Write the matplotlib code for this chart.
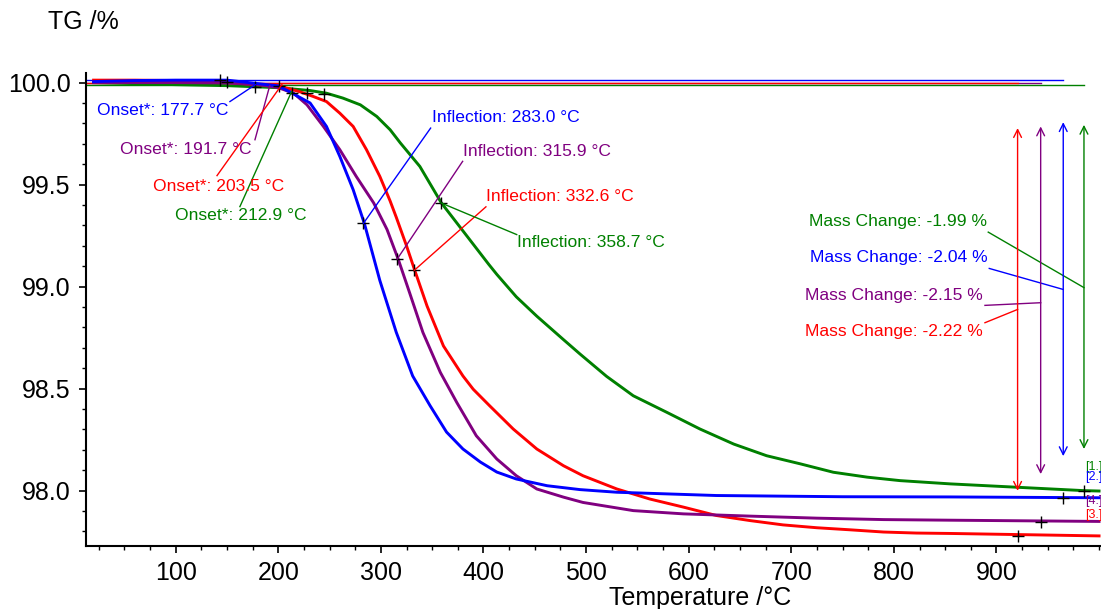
import numpy as np
import matplotlib
matplotlib.use('Agg')
import matplotlib.pyplot as plt
from matplotlib.ticker import MultipleLocator, FixedLocator

plt.rcParams['font.family'] = ['Liberation Sans', 'DejaVu Sans']

# sample curves (temperature in axis units, mass in %)
t_blue = [20, 60, 100, 150, 180, 200, 211, 231, 247, 260, 273, 284, 292, 299, 315, 331, 348,
          364, 380, 397, 413, 432, 462, 494, 530, 627, 750, 855, 1000]
m_blue = [100.005, 100.01, 100.012, 100.012, 99.995, 99.984, 99.955, 99.90, 99.785, 99.638,
          99.475, 99.308, 99.16, 99.03, 98.776, 98.562, 98.416, 98.287, 98.204, 98.140,
          98.091, 98.057, 98.024, 98.005, 97.992, 97.976, 97.970, 97.969, 97.965]

t_purple = [20, 60, 100, 150, 180, 200, 215, 228, 244, 260, 276, 293, 306, 317, 328, 341, 358,
            374, 393, 413, 432, 452, 478, 497, 546, 595, 660, 725, 790, 855, 1000]
m_purple = [100.0, 100.0, 100.0, 99.998, 99.99, 99.975, 99.948, 99.891, 99.785, 99.671, 99.540,
            99.410, 99.280, 99.133, 98.970, 98.775, 98.579, 98.432, 98.269, 98.155, 98.073,
            98.008, 97.968, 97.942, 97.902, 97.886, 97.875, 97.865, 97.858, 97.855, 97.849]

t_red = [20, 60, 100, 150, 180, 200, 221, 234, 247, 260, 273, 286, 299, 309, 315, 325, 333, 345,
         361, 380, 390, 406, 429, 452, 478, 497, 530, 562, 595, 627, 660, 692, 725, 757, 790,
         822, 855, 1000]
m_red = [100.012, 100.012, 100.01, 100.0, 99.99, 99.985, 99.955, 99.932, 99.907, 99.850, 99.785,
         99.671, 99.540, 99.42, 99.34, 99.20, 99.08, 98.905, 98.709, 98.562, 98.497, 98.416,
         98.302, 98.204, 98.122, 98.073, 98.008, 97.959, 97.919, 97.878, 97.853, 97.832, 97.818,
         97.808, 97.797, 97.792, 97.790, 97.778]

t_green = [20, 60, 100, 150, 200, 231, 247, 263, 280, 296, 309, 319, 338, 359, 384, 405, 413,
           432, 452, 478, 494, 520, 546, 579, 611, 644, 676, 709, 741, 774, 806, 855, 985, 1000]
m_green = [100.0, 99.995, 99.99, 99.985, 99.975, 99.961, 99.948, 99.924, 99.891, 99.834, 99.769,
           99.704, 99.589, 99.410, 99.247, 99.11, 99.06, 98.95, 98.855, 98.74, 98.67, 98.56,
           98.465, 98.383, 98.302, 98.228, 98.171, 98.131, 98.090, 98.066, 98.049, 98.033,
           98.000, 97.998]

colors = {'blue': '#0000ff', 'purple': '#800080', 'red': '#ff0000', 'green': '#008000'}

# onset / inflection results
onset_T = {'blue': 177.7, 'purple': 191.7, 'red': 203.5, 'green': 212.9}
infl_T = {'blue': 283.0, 'purple': 315.9, 'red': 332.6, 'green': 358.7}
infl_m = {'blue': 99.31, 'purple': 99.135, 'red': 99.08, 'green': 99.41}
mass_change = {'green': -1.99, 'blue': -2.04, 'purple': -2.15, 'red': -2.22}

# tangent crosses near the onsets
onset_cross_T = [143.2, 149.7, 177.3, 200.7, 213.1, 228.3, 244.5]
onset_cross_m = [100.013, 100.005, 99.980, 99.984, 99.951, 99.951, 99.945]

# mass change step positions
step_T = {'red': 920.6, 'purple': 943.1, 'blue': 965.1, 'green': 985.3}
step_end = {'red': 97.777, 'purple': 97.848, 'blue': 97.963, 'green': 97.997}
start_level = {'purple': 100.0, 'red': 100.0, 'blue': 100.013, 'green': 99.989}
arrow_top = {'red': 99.777, 'purple': 99.785, 'blue': 99.806, 'green': 99.793}
arrow_bot = {'red': 97.999, 'purple': 98.081, 'blue': 98.169, 'green': 98.204}

fig = plt.figure(figsize=(11.01, 6.09), dpi=100)
ax = fig.add_axes([86/1101, 1-545.7/609, 1-86/1101, (545.7-73)/609])

x0 = 12.6
# starting level lines
for k in ['purple', 'red', 'blue', 'green']:
    ax.plot([x0, step_T[k]], [start_level[k]]*2, color=colors[k], lw=1)

ax.plot(t_green, m_green, color=colors['green'], lw=2.1)
ax.plot(t_red, m_red, color=colors['red'], lw=2.1)
ax.plot(t_purple, m_purple, color=colors['purple'], lw=2.1)
ax.plot(t_blue, m_blue, color=colors['blue'], lw=2.1)

# crosses
ax.plot(onset_cross_T, onset_cross_m, '+', color='black', ms=9, mew=1)
ax.plot(list(infl_T.values()), list(infl_m.values()), '+', color='black', ms=9, mew=1)
ax.plot(list(step_T.values()), list(step_end.values()), '+', color='black', ms=9, mew=1)

fs = 12.6
# onset labels
onset_lab = {'blue': (23.0, 99.863), 'purple': (45.7, 99.671), 'red': (78.2, 99.491), 'green': (99.3, 99.348)}
onset_line = {'blue': ((152.9, 99.907), 99.99), 'purple': ((177.3, 99.720), 99.985),
              'red': ((140.3, 99.544), 99.99), 'green': ((162.6, 99.392), 99.955)}
for k in onset_lab:
    ax.text(*onset_lab[k], 'Onset*: %.1f °C' % onset_T[k], color=colors[k], fontsize=fs,
            ha='left', va='center')
    (xs, ys), ye = onset_line[k]
    ax.plot([xs, onset_T[k]], [ys, ye], color=colors[k], lw=1)

# inflection labels
infl_lab = {'blue': (349.5, 99.831), 'purple': (380.3, 99.663), 'red': (402.4, 99.443), 'green': (432.4, 99.215)}
infl_line = {'blue': (348.5, 99.777), 'purple': (379.7, 99.614), 'red': (402.4, 99.391), 'green': (432.4, 99.255)}
for k in infl_lab:
    ax.text(*infl_lab[k], 'Inflection: %.1f °C' % infl_T[k], color=colors[k], fontsize=fs,
            ha='left', va='center')
    ax.plot([infl_line[k][0], infl_T[k]], [infl_line[k][1], infl_m[k]], color=colors[k], lw=1)

# mass change arrows and labels
mc_lab = {'green': (890.4, 99.317), 'blue': (891.7, 99.141), 'purple': (886.5, 98.958), 'red': (886.8, 98.778)}
mc_line = {'green': ((892, 99.267), 98.995), 'blue': ((893, 99.089), 98.986),
           'purple': ((888.8, 98.908), 98.921), 'red': ((888.8, 98.823), 98.888)}
for k in mc_lab:
    ax.annotate('', xy=(step_T[k], arrow_top[k]), xytext=(step_T[k], arrow_bot[k]),
                arrowprops=dict(arrowstyle='<->', color=colors[k], lw=1, mutation_scale=14,
                                shrinkA=0, shrinkB=0))
    ax.text(*mc_lab[k], 'Mass Change: %.2f %%' % mass_change[k], color=colors[k], fontsize=fs,
            ha='right', va='center')
    (xs, ys), ye = mc_line[k]
    ax.plot([xs, step_T[k]], [ys, ye], color=colors[k], lw=1)

# curve tags at the right edge
for lab, k, y in [('[1.]', 'green', 98.114), ('[2.]', 'blue', 98.066),
                  ('[4.]', 'purple', 97.951), ('[3.]', 'red', 97.881)]:
    ax.text(986.2, y, lab, color=colors[k], fontsize=9, ha='left', va='center', clip_on=False)

ax.set_xlim(x0, 1001.9)
ax.set_ylim(97.73, 100.047)
ax.xaxis.set_major_locator(FixedLocator(range(100, 1000, 100)))
ax.xaxis.set_minor_locator(MultipleLocator(25))
ax.yaxis.set_major_locator(FixedLocator([98.0, 98.5, 99.0, 99.5, 100.0]))
ax.yaxis.set_minor_locator(MultipleLocator(0.1))
ax.yaxis.set_major_formatter(plt.FormatStrFormatter('%.1f'))
ax.tick_params(which='major', direction='out', length=5, width=1.2, labelsize=18, pad=6)
ax.tick_params(which='minor', direction='out', length=3, width=1)
for s in ['top', 'right']:
    ax.spines[s].set_visible(False)
for s in ['left', 'bottom']:
    ax.spines[s].set_linewidth(1.5)

fig.text(700/1101, 1-598/609, 'Temperature /°C', fontsize=18, ha='center', va='center')
fig.text(48/1101, 1-22/609, 'TG /%', fontsize=18, ha='left', va='center')

fig.savefig('out.png', dpi=100)
